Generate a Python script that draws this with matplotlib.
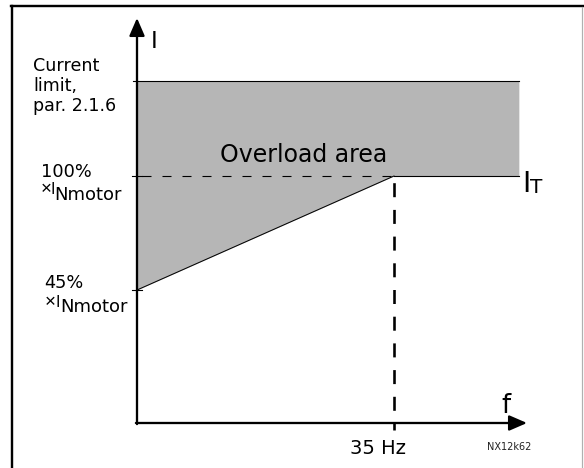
import matplotlib
matplotlib.use("Agg")
import matplotlib.pyplot as plt
from matplotlib.lines import Line2D

plt.rcParams["font.family"] = ["DejaVu Sans"]
plt.rcParams["lines.scale_dashes"] = False

# ---------------- data ----------------
freq_hz = [0, 35, 52]            # break points of the overload area (Hz)
lower_pct = [45, 100, 100]       # I_T curve, % of I_Nmotor
upper_pct = [146, 146, 146]      # current limit, par. 2.1.6
knee_hz = 35
knee_label = "35 Hz"
level_values = [45, 100]
level_labels = ["45%", "100%"]
limit_lines = ["Current", "limit,", "par. 2.1.6"]
area_label = "Overload area"
code_label = "NX12k62"

# ---------------- layout ----------------
W, H, DPI = 584, 468, 100
OX, OY = 137, 423                  # axis origin (pixels from top-left)
HZ_PX = (394 - OX) / 35.0          # pixels per Hz
PCT_PX = (290 - 176) / 55.0        # pixels per %


def P(px, py):
    """layout pixel (from top-left) -> data coordinates"""
    return ((px - OX) / HZ_PX, 100 - (py - 176) / PCT_PX)


def dx(px):
    return px / HZ_PX


PT = DPI / 72.0

fig = plt.figure(figsize=(W / DPI, H / DPI), dpi=DPI)
ax = fig.add_axes([0, 0, 1, 1])
ax.set_axis_off()
ax.set_xlim(P(0, 0)[0], P(W, 0)[0])
ax.set_ylim(P(0, H)[1], P(0, 0)[1])

# outer frame
fig.add_artist(Line2D([11 / W, 583 / W], [1 - 6 / H, 1 - 6 / H], color="black", lw=2.4 / PT,
                      transform=fig.transFigure, solid_capstyle="projecting"))
fig.add_artist(Line2D([12 / W, 12 / W], [1 - 6 / H, 0], color="black", lw=2.4 / PT,
                      transform=fig.transFigure))
fig.add_artist(Line2D([582 / W, 582 / W], [1 - 7 / H, 0], color="#b0b0b0", lw=1.2 / PT,
                      transform=fig.transFigure))

# overload area
gray = "#b6b6b6"
ax.fill_between(freq_hz, lower_pct, upper_pct, color=gray, lw=0, zorder=1)
ax.plot(freq_hz, upper_pct, color="black", lw=1.1 / PT, zorder=3)
ax.plot(freq_hz[:2], lower_pct[:2], color="black", lw=1.0 / PT, zorder=3)
ax.plot(freq_hz[1:], lower_pct[1:], color="black", lw=1.1 / PT, zorder=3)
# dashed 100% line
ax.plot([dx(5), knee_hz], [lower_pct[1], lower_pct[1]], color="black", lw=1.1 / PT,
        ls=(0, (9 / PT, 11 / PT)), zorder=3)

# vertical dashed line at knee
y_bottom = P(0, 430)[1]
ax.plot([knee_hz, knee_hz], [y_bottom, lower_pct[1]], color="black", lw=2.6 / PT,
        ls=(7 / PT, (14 / PT, 12.7 / PT)), zorder=4)

# axes with arrows
y_origin = P(0, OY)[1]
arrow = "-|>,head_length=%.3f,head_width=%.3f" % (15 / PT, 6.5 / PT)
ax.annotate("", xy=(0, P(0, 18)[1]), xytext=(0, P(0, OY + 1.1)[1]),
            arrowprops=dict(arrowstyle=arrow, mutation_scale=1, lw=2.3 / PT, color="black",
                            shrinkA=0, shrinkB=0), zorder=5)
ax.annotate("", xy=(P(527, 0)[0], y_origin), xytext=(dx(-1.1), y_origin),
            arrowprops=dict(arrowstyle=arrow, mutation_scale=1, lw=2.3 / PT, color="black",
                            shrinkA=0, shrinkB=0), zorder=5)

# ticks on the I axis
ax.plot([dx(-4.5), 0], [upper_pct[0], upper_pct[0]], color="black", lw=1.1 / PT, zorder=5)
for v in level_values:
    ax.plot([dx(-5), dx(5)], [v, v], color="black", lw=1.1 / PT, zorder=5)

# ---------------- texts ----------------
def T(px, py, s, size, **kw):
    x, y = P(px, py)
    ax.text(x, y, s, fontsize=size, ha="left", va="baseline", **kw)


T(151, 48, "I", 16.5)
for i, line in enumerate(limit_lines):
    T(33, 71 + 20 * i, line, 12.6)

times = dict(family=["Liberation Sans", "DejaVu Sans"])
# 100 % label
T(41, 177, level_labels[1], 12.8)
T(41, 194.5, "×", 13.5, **times)
T(51, 194, "I", 11)
T(54.5, 200, "Nmotor", 13)
# 45 % label
T(44, 288, level_labels[0], 12.8)
T(45, 307.5, "×", 13.5, **times)
T(55.5, 307, "I", 11)
T(60.5, 312, "Nmotor", 13)

T(220, 162, area_label, 17)
T(522, 192, "I", 20.5)
T(530, 193, "T", 14.5)
T(501, 413, "f", 18.5)
T(350, 454, knee_label, 14)
T(487, 450, code_label, 7, color="#222222")

fig.savefig("out.png", dpi=DPI)
